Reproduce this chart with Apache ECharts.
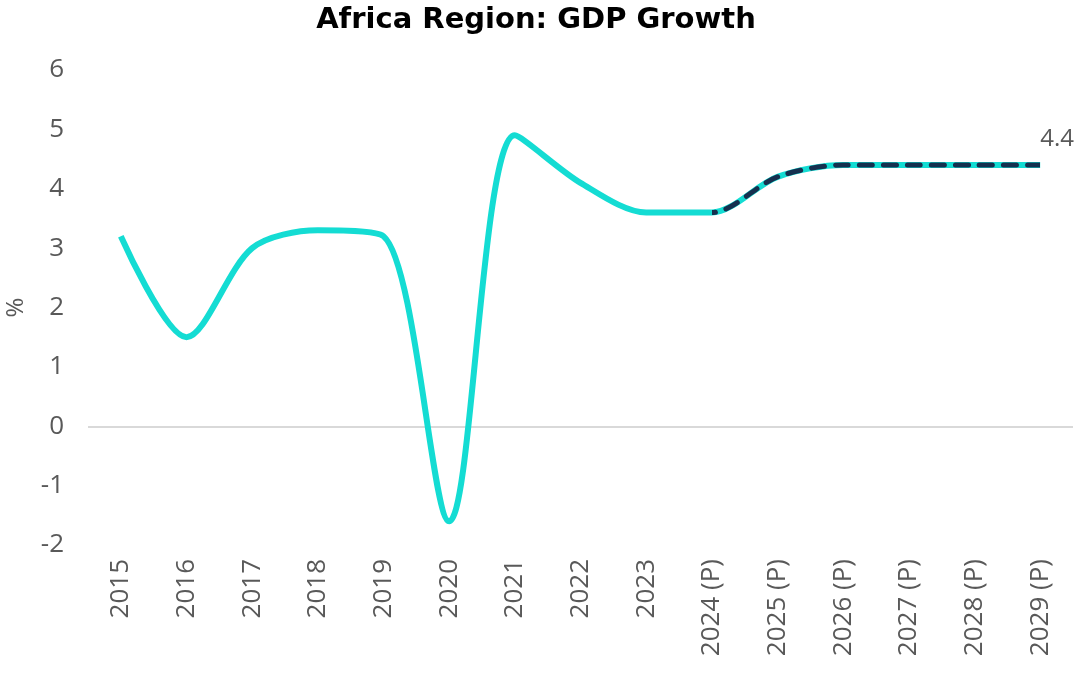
<!DOCTYPE html>
<html>
<head>
<meta charset="utf-8">
<script src="https://cdn.jsdelivr.net/npm/echarts@6/dist/echarts.min.js"></script>
<style>
html,body{margin:0;padding:0;background:#fff;}
#chart{width:1084px;height:684px;}
</style>
</head>
<body>
<div id="chart"></div>
<script>
const categories = ['2015','2016','2017','2018','2019','2020','2021','2022','2023','2024 (P)','2025 (P)','2026 (P)','2027 (P)','2028 (P)','2029 (P)'];
const growth = [3.2, 1.5, 3.0, 3.3, 3.2, -1.6, 4.9, 4.1, 3.6, 3.6, 4.2, 4.4, 4.4, 4.4, 4.4];
const projectionStart = 9; // index of '2024 (P)'
const yTicks = { min: -2, max: 6, interval: 1 };
const titleText = 'Africa Region: GDP Growth';
const yName = '%';

const FONT = 'Open Sans';
const SMOOTH = 0.3;
const lastIndex = categories.length - 1;
const chart = echarts.init(document.getElementById('chart'), null, { renderer: 'canvas' });
chart.setOption({
  animation: false,
  backgroundColor: '#ffffff',
  title: {
    text: titleText,
    left: 531,
    textAlign: 'center',
    top: 1,
    textStyle: { fontFamily: 'DejaVu Sans', fontWeight: 'bold', fontSize: 29, color: '#000000' }
  },
  grid: { left: 88, right: 11, top: 70, bottom: 139, containLabel: false, outerBoundsMode: 'none' },
  visualMap: {
    show: false,
    type: 'piecewise',
    dimension: 0,
    seriesIndex: 1,
    pieces: [
      { min: 0, max: projectionStart - 0.001, color: 'rgba(21,48,79,0)' },
      { min: projectionStart, max: lastIndex, color: '#15304F' }
    ],
    outOfRange: { color: 'rgba(21,48,79,0)' }
  },
  xAxis: {
    type: 'category',
    data: categories,
    boundaryGap: true,
    axisLine: { show: false },
    axisTick: { show: false },
    splitLine: { show: false },
    axisLabel: { rotate: 90, margin: 14, fontFamily: FONT, fontSize: 26, color: '#595959', interval: 0 }
  },
  yAxis: {
    type: 'value',
    min: yTicks.min,
    max: yTicks.max,
    interval: yTicks.interval,
    name: yName,
    nameLocation: 'middle',
    nameRotate: 90,
    nameGap: 60,
    nameTextStyle: { fontFamily: FONT, fontSize: 24, color: '#595959' },
    axisLine: { show: false },
    axisTick: { show: false },
    splitLine: { show: false },
    axisLabel: { margin: 24, fontFamily: FONT, fontSize: 26, color: '#595959' }
  },
  series: [
    {
      type: 'line',
      data: growth,
      smooth: SMOOTH,
      symbol: 'none',
      lineStyle: { color: '#14DCD3', width: 6 },
      z: 2,
      markLine: {
        silent: true,
        symbol: 'none',
        label: { show: false },
        lineStyle: { color: '#D9D9D9', width: 2, type: 'solid' },
        data: [{ yAxis: 0 }],
        z: 1
      }
    },
    {
      type: 'line',
      data: growth,
      smooth: SMOOTH,
      symbol: 'none',
      lineStyle: { width: 5, type: [13, 11], cap: 'round' },
      z: 3,
      endLabel: {
        show: true,
        formatter: '{c}',
        fontFamily: FONT,
        fontSize: 24,
        color: '#595959',
        offset: [-8, -26]
      }
    }
  ]
});
</script>
</body>
</html>
